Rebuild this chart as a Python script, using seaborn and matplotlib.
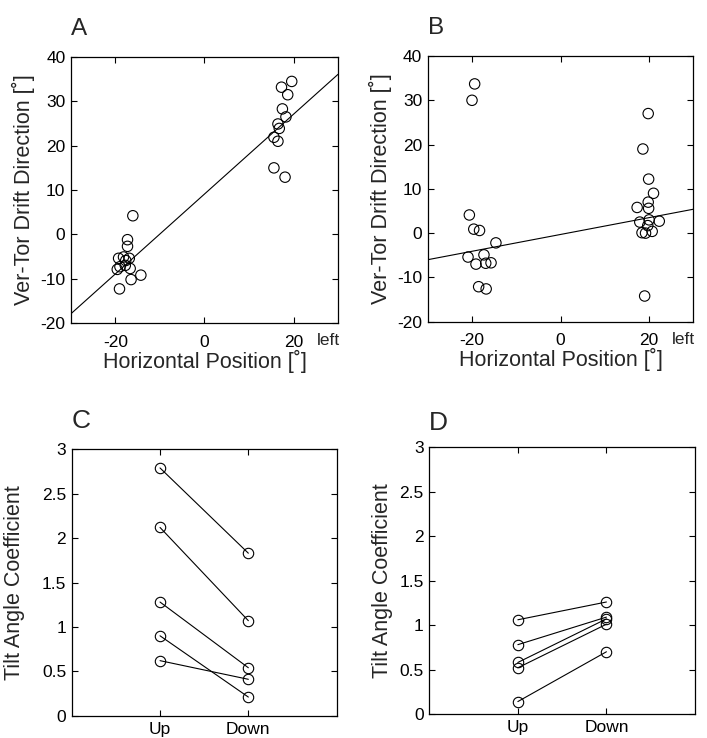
import numpy as np
import pandas as pd
import matplotlib
matplotlib.use("Agg")
import matplotlib.pyplot as plt
import seaborn as sns

# ---- Panel A: drift direction vs horizontal eye position ----
a_pos = [19.6, 17.3, 18.7, 17.5, 18.3, 16.5, 16.8, 15.6, 16.5, 15.6, 18.1,
         -16.1, -17.3, -17.3, -19.3, -18.2, -16.9, -19.0, -17.8, -16.7,
         -19.6, -14.3, -16.5, -19.1, -17.7]
a_dir = [34.5, 33.2, 31.5, 28.3, 26.5, 24.9, 23.9, 21.9, 21.0, 15.0, 12.9,
         4.2, -1.2, -2.7, -5.4, -5.1, -5.4, -7.3, -7.0, -7.7,
         -7.9, -9.2, -10.2, -12.3, -5.9]
a_fit = (0.90, 9.1)          # slope, intercept

# ---- Panel B ----
b_pos = [-19.4, -20.0, -20.6, -19.6, -18.3, -14.6, -20.9, -17.3, -19.1,
         -16.9, -15.7, -18.5, -16.8,
         19.8, 18.6, 19.9, 21.0, 19.8, 17.3, 19.9, 20.0, 17.9, 22.3, 19.7,
         18.4, 19.2, 20.7, 19.0]
b_dir = [33.7, 30.0, 4.1, 0.9, 0.6, -2.2, -5.4, -4.9, -7.0,
         -6.8, -6.7, -12.1, -12.6,
         27.0, 19.0, 12.2, 9.0, 7.0, 5.8, 5.6, 3.0, 2.5, 2.7, 1.7,
         0.1, 0.0, 0.4, -14.2]
b_fit = (0.19, -0.3)

# ---- Panels C and D: tilt angle coefficient, Up vs Down ----
conditions = ["Up", "Down"]
c_up = [2.79, 2.12, 1.28, 0.90, 0.62]
c_down = [1.83, 1.07, 0.54, 0.21, 0.41]
d_up = [1.06, 0.78, 0.58, 0.52, 0.14]
d_down = [1.26, 1.09, 1.07, 1.01, 0.70]

pos_ticks = [-20, 0, 20]
dir_ticks = [-20, -10, 0, 10, 20, 30, 40]
coef_ticks = [0, 0.5, 1, 1.5, 2, 2.5, 3]
coef_labels = ["0", "0.5", "1", "1.5", "2", "2.5", "3"]

sns.set_style("ticks")
plt.rcParams.update({
    "font.family": ["Liberation Sans", "DejaVu Sans"],
    "axes.unicode_minus": False,
    "xtick.direction": "in", "ytick.direction": "in",
    "xtick.top": True, "ytick.right": True,
    "xtick.major.size": 4, "ytick.major.size": 4,
    "xtick.major.width": 0.8, "ytick.major.width": 0.8,
    "axes.linewidth": 0.9,
    "axes.edgecolor": "black",
    "xtick.color": "black", "ytick.color": "black",
    "xtick.labelsize": 12.5, "ytick.labelsize": 12.5,
    "axes.labelsize": 15.5,
})

fig = plt.figure(figsize=(7.07, 7.38), dpi=100)
axA = fig.add_axes([0.1004, 0.5623, 0.3777, 0.3604])
axB = fig.add_axes([0.6050, 0.5641, 0.3757, 0.3600])
axC = fig.add_axes([0.1014, 0.0302, 0.3748, 0.3610])
axD = fig.add_axes([0.6072, 0.0325, 0.3758, 0.3614])


def drift_panel(ax, pos, direc, fit, letter, ylab_x):
    xlim = (-30, 30)
    sns.scatterplot(x=pos, y=direc, ax=ax, marker="o", s=56,
                    facecolor="none", edgecolor="black", linewidth=0.8)
    xl = np.array(xlim, dtype=float)
    sns.lineplot(x=xl, y=fit[0] * xl + fit[1], ax=ax, color="black",
                 linewidth=0.8)
    ax.set_xlim(*xlim)
    ax.set_ylim(-20, 40)
    ax.set_xticks(pos_ticks)
    ax.set_yticks(dir_ticks)
    ax.tick_params(axis="x", pad=8.5)
    ax.tick_params(axis="y", pad=4)
    ax.set_xlabel("Horizontal Position [˚]")
    ax.set_ylabel("Ver-Tor Drift Direction [˚]")
    ax.xaxis.set_label_coords(0.5, -0.10)
    ax.yaxis.set_label_coords(ylab_x, 0.5)
    ax.text(27.8, -0.038, "left", transform=ax.get_xaxis_transform(),
            ha="center", va="top", fontsize=12.5)
    ax.text(0.0, 1.083, letter, transform=ax.transAxes, fontsize=17.5,
            ha="left", va="baseline")


def coef_panel(ax, up, down, letter, ylab_x, letter_y):
    rows = []
    for i, (u, d) in enumerate(zip(up, down)):
        rows.append({"subject": i, "x": conditions.index("Up") + 1, "value": u})
        rows.append({"subject": i, "x": conditions.index("Down") + 1, "value": d})
    df = pd.DataFrame(rows)
    sns.lineplot(data=df, x="x", y="value", units="subject", estimator=None,
                 ax=ax, color="black", linewidth=0.8, marker="o",
                 markersize=7.5, markerfacecolor="none",
                 markeredgecolor="black", markeredgewidth=0.8)
    ax.set_xlim(0, 3)
    ax.set_ylim(0, 3)
    ax.set_xticks([1, 2])
    ax.set_xticklabels(conditions)
    ax.set_yticks(coef_ticks)
    ax.set_yticklabels(coef_labels)
    ax.tick_params(axis="x", pad=4.5)
    ax.tick_params(axis="y", pad=4)
    ax.set_xlabel("")
    ax.set_ylabel("Tilt Angle Coefficient")
    ax.yaxis.set_label_coords(ylab_x, 0.5)
    ax.text(0.0, letter_y, letter, transform=ax.transAxes, fontsize=19,
            ha="left", va="baseline")


drift_panel(axA, a_pos, a_dir, a_fit, "A", -0.135)
drift_panel(axB, b_pos, b_dir, b_fit, "B", -0.134)
coef_panel(axC, c_up, c_down, "C", -0.176, 1.08)
coef_panel(axD, d_up, d_down, "D", -0.137, 1.065)

for ax in (axA, axB, axC, axD):
    for sp in ax.spines.values():
        sp.set_visible(True)

fig.savefig("out.png", dpi=100, facecolor="white")
